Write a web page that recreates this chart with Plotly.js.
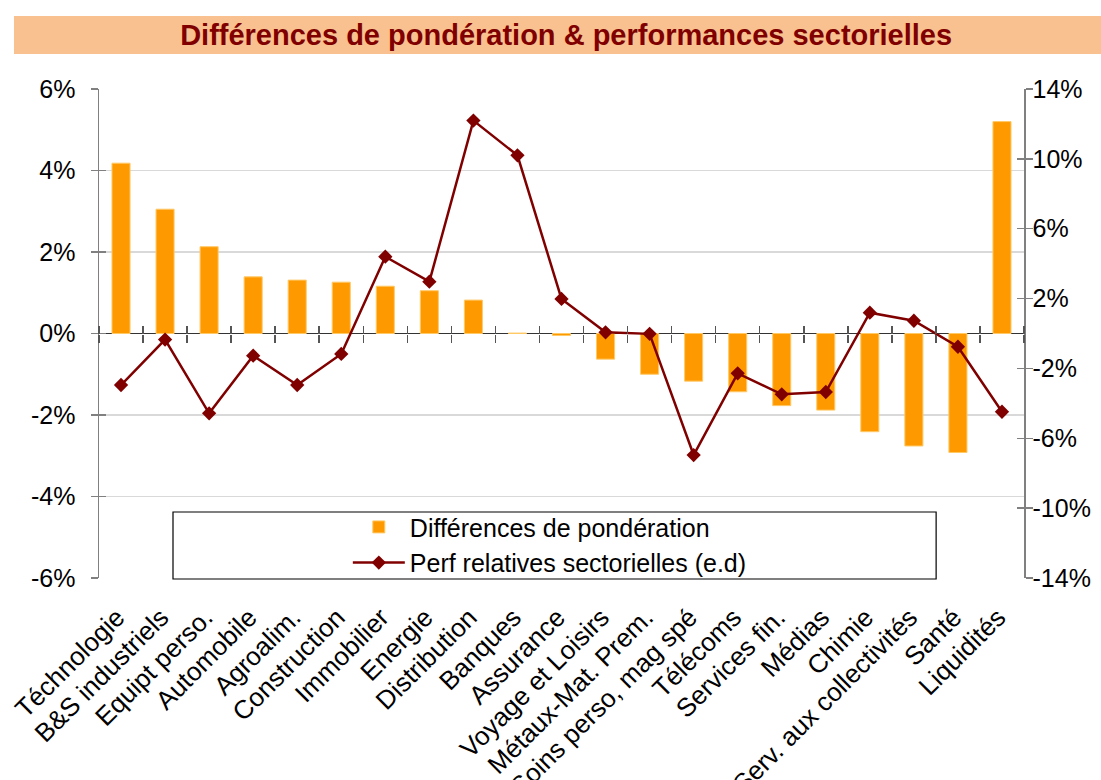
<!DOCTYPE html>
<html><head><meta charset="utf-8">
<script src="https://cdn.plot.ly/plotly-3.0.1.min.js"></script>
<style>html,body{margin:0;padding:0;background:#fff}#chart{width:1101px;height:780px}</style>
</head><body><div id="chart"></div>
<script>
const categories = ['Téchnologie','B&S industriels','Equipt perso.','Automobile','Agroalim.','Construction','Immobilier','Energie','Distribution','Banques','Assurance','Voyage et Loisirs','Métaux-Mat. Prem.','Soins perso, mag spé','Télécoms','Services fin.','Médias','Chimie','Serv. aux collectivités','Santé','Liquidités'];
const ponderation = [4.18, 3.05, 2.13, 1.39, 1.31, 1.26, 1.16, 1.05, 0.82, 0.01, -0.05, -0.63, -1.00, -1.17, -1.43, -1.77, -1.88, -2.41, -2.76, -2.92, 5.20];
const perfRelative = [-2.95, -0.35, -4.57, -1.27, -2.95, -1.17, 4.40, 2.97, 12.19, 10.2, 1.98, 0.07, -0.02, -6.96, -2.28, -3.48, -3.35, 1.19, 0.73, -0.76, -4.48];
const leftTickVals = [-6, -4, -2, 0, 2, 4, 6];
const leftTickText = ['-6%', '-4%', '-2%', '0%', '2%', '4%', '6%'];
const rightTickVals = [-14, -10, -6, -2, 2, 6, 10, 14];
const rightTickText = ['-14%', '-10%', '-6%', '-2%', '2%', '6%', '10%', '14%'];
const titleText = 'Différences de pondération & performances sectorielles';
const barName = 'Différences de pondération';
const lineName = 'Perf relatives sectorielles (e.d)';

const FONT = 'Liberation Sans, Arial, sans-serif';
const nulls = categories.map(() => null);

const traces = [
  {type: 'bar', x: categories, y: ponderation, name: barName, xaxis: 'x', yaxis: 'y',
   marker: {color: '#FF9900', line: {color: '#FFC966', width: 1}}, legend: 'legend', hoverinfo: 'x+y'},
  {type: 'scatter', mode: 'lines+markers', x: categories, y: perfRelative, name: lineName, xaxis: 'x', yaxis: 'y2',
   line: {color: '#800000', width: 2.5}, marker: {symbol: 'diamond', size: 11, color: '#800000'}, legend: 'legend2'},
  {type: 'scatter', mode: 'lines', x: categories, y: nulls, xaxis: 'x2', yaxis: 'y3', showlegend: false, hoverinfo: 'skip'},
  {type: 'scatter', mode: 'lines', x: categories, y: nulls, xaxis: 'x3', yaxis: 'y4', showlegend: false, hoverinfo: 'skip'}
];

const catAxisBase = {type: 'category', categoryarray: categories, range: [-0.5, categories.length - 0.5], fixedrange: true};

const layout = {
  width: 1101, height: 780,
  margin: {l: 99, r: 77, t: 89, b: 202},
  paper_bgcolor: '#ffffff', plot_bgcolor: '#ffffff',
  font: {family: FONT, size: 25, color: '#000'},
  bargap: 0.59,
  title: {text: '<b>' + titleText + '</b>', font: {family: FONT, size: 29, color: '#800000'},
          x: 0.505, xref: 'paper', xanchor: 'center', y: 1 - 35/780, yref: 'container', yanchor: 'middle'},
  xaxis: Object.assign({}, catAxisBase, {showline: false, showgrid: false, zeroline: false, ticks: '', tickangle: -45,
          ticklabelstandoff: 18, ticklabelshift: -4, tickfont: {family: FONT, size: 26, color: '#000'}, automargin: false}),
  xaxis2: Object.assign({}, catAxisBase, {overlaying: 'x', anchor: 'free', position: 0.5, side: 'bottom',
          showline: false, showgrid: false, zeroline: false, ticks: 'outside', tickson: 'boundaries', ticklen: 8, tickwidth: 1.5,
          tickcolor: '#555', showticklabels: false}),
  xaxis3: Object.assign({}, catAxisBase, {overlaying: 'x', anchor: 'free', position: 0.5, side: 'top',
          showline: false, showgrid: false, zeroline: false, ticks: 'outside', tickson: 'boundaries', ticklen: 8, tickwidth: 1.5,
          tickcolor: '#555', showticklabels: false}),
  yaxis: {range: [-6, 6], tickvals: leftTickVals, ticktext: leftTickText, showline: true, linecolor: '#808080', linewidth: 1.5,
          ticks: 'outside', ticklen: 7, tickwidth: 1.5, tickcolor: '#808080', showgrid: true, gridcolor: '#D9D9D9', gridwidth: 1.5,
          zeroline: true, zerolinecolor: '#333', zerolinewidth: 1.5, ticklabelstandoff: 10, automargin: false, fixedrange: true,
          tickfont: {family: FONT, size: 25, color: '#000'}},
  yaxis2: {range: [-14, 14], tickvals: rightTickVals, ticktext: rightTickText, overlaying: 'y', side: 'right', anchor: 'x',
          showline: true, linecolor: '#808080', linewidth: 1.5, ticks: 'outside', ticklen: 7, tickwidth: 1.5, tickcolor: '#808080',
          showgrid: false, zeroline: false, ticklabelstandoff: -5, automargin: false, fixedrange: true,
          tickfont: {family: FONT, size: 25, color: '#000'}},
  yaxis3: {range: [-6, 6], tickvals: leftTickVals, overlaying: 'y', side: 'left', anchor: 'x', showline: false,
          ticks: 'inside', ticklen: 7, tickwidth: 1.5, tickcolor: '#808080', showgrid: false, zeroline: false, showticklabels: false, fixedrange: true},
  yaxis4: {range: [-14, 14], tickvals: rightTickVals, overlaying: 'y', side: 'right', anchor: 'x', showline: false,
          ticks: 'inside', ticklen: 7, tickwidth: 1.5, tickcolor: '#808080', showgrid: false, zeroline: false, showticklabels: false, fixedrange: true},
  legend: {x: 0.269, xanchor: 'left', y: 0.104, yanchor: 'middle', bgcolor: 'rgba(0,0,0,0)', borderwidth: 0,
           itemwidth: 52, font: {family: FONT, size: 25, color: '#000'}},
  legend2: {x: 0.269, xanchor: 'left', y: 0.031, yanchor: 'middle', bgcolor: 'rgba(0,0,0,0)', borderwidth: 0,
           itemwidth: 52, font: {family: FONT, size: 25, color: '#000'}},
  shapes: [
    {type: 'rect', xref: 'paper', yref: 'paper', x0: (14-99)/925, x1: (1101-99)/925, y0: (578-54)/489, y1: (578-16)/489,
     fillcolor: '#F9C18F', line: {width: 0}, layer: 'below'},
    {type: 'rect', xref: 'paper', yref: 'paper', x0: 0.080, x1: 0.905, y0: -0.002, y1: 0.135,
     fillcolor: '#ffffff', line: {color: '#000', width: 1.2}, layer: 'between'}
  ],
  showlegend: true
};

Plotly.newPlot('chart', traces, layout, {displayModeBar: false, staticPlot: true});
</script>
</body></html>
